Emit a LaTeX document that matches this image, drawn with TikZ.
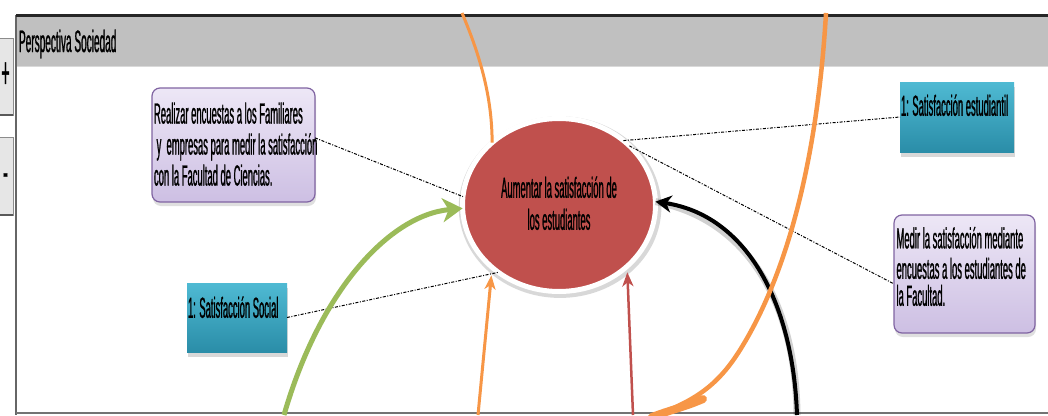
\documentclass[tikz,border=0pt]{standalone}
\usepackage{fontspec}
\setmainfont{Liberation Sans}
\newfontfamily\narrowsans{Liberation Sans}[FakeStretch=0.325,FakeBold=0.8]
\usetikzlibrary{arrows.meta,shadows,shapes.geometric}

\definecolor{hdrgray}{HTML}{C0C0C0}
\definecolor{lavtop}{HTML}{EDE7F6}
\definecolor{lavbot}{HTML}{CDBFE3}
\definecolor{boxline}{HTML}{8064A2}
\definecolor{cyantop}{HTML}{4FBAD3}
\definecolor{cyanbot}{HTML}{2A8DA8}
\definecolor{goalred}{HTML}{C0504D}
\definecolor{accorange}{HTML}{F79646}
\definecolor{accgreen}{HTML}{9BBB59}
\definecolor{btnfill}{HTML}{E6E6E6}

% text block of a box: width, height, top padding, left padding, lines
\newcommand\bxtext[5]{\parbox[c][#2][t]{#1}{\vspace*{#3}\raggedright\leftskip=#4\relax\strut#5}}

\begin{document}
\begin{tikzpicture}[x=1pt,y=-1pt,
  tx/.style={font=\narrowsans\fontsize{29}{28}\selectfont, inner sep=0pt, outer sep=0pt},
  purplebox/.style={tx, rounded corners=8pt, draw=boxline, line width=1.2pt,
    top color=lavtop, bottom color=lavbot,
    drop shadow={shadow xshift=1pt, shadow yshift=-4pt, opacity=0.25}},
  cyanbox/.style={tx, top color=cyantop, bottom color=cyanbot,
    drop shadow={shadow xshift=1pt, shadow yshift=-5pt, opacity=0.3}},
  goalst/.style={tx, ellipse, draw=white, line width=5pt, fill=goalred,
    minimum width=193pt, minimum height=173pt,
    drop shadow={shadow xshift=1pt, shadow yshift=-2pt, opacity=0.3, shadow scale=1.05}},
  dd/.style={draw=black, line width=1pt, dash pattern=on 3pt off 1.5pt on 1pt off 1.5pt},
  btn/.style={fill=btnfill, draw=black!45, line width=0.8pt},
  btnsign/.style={font=\narrowsans\fontsize{44}{44}\selectfont, inner sep=0pt},
  tip/.style={-{Stealth[length=14pt,width=11pt,inset=4pt]}},
  softshade/.style={draw=black, opacity=0.18, line width=7pt}
]
\useasboundingbox (0,0) rectangle (1048,415);
\fill[white] (0,0) rectangle (1048,415);

% side buttons
\path[btn] (-2,38) rectangle (13,115);
\draw[black!65, line width=1.5pt] (0,115) -- (13,115);
\node[btnsign] (plus) at (5.5,75) {+};
\path[btn] (-2,137) rectangle (13,215);
\draw[black!65, line width=1.5pt] (0,215) -- (13,215);
\node[btnsign] (minus) at (5.5,180) {-};

% panel frame and header band
\fill[hdrgray] (16,17) rectangle (1048,66);
\draw[white!85!black, line width=1pt] (16,66.5) -- (1048,66.5);
\draw[black!60, line width=1.5pt] (16,15) -- (16,415);
\draw[black!55, line width=2pt] (16,413) -- (1048,413);
\draw[black!85, line width=3pt] (16,15.5) -- (1048,15.5);
\node[tx, font=\narrowsans\fontsize{31}{32}\selectfont, anchor=base west] (title) at (19,52) {Perspectiva Sociedad};

% objective and related boxes
\node[goalst] (goal) at (559,205) {\parbox[c][80pt][t]{130pt}{\vspace*{11.4pt}\centering\baselineskip=32pt\strut\makebox[\linewidth]{Aumentar la satisfacción de}\\\makebox[\linewidth]{los estudiantes}}};

\node[purplebox] (p1) at (233.5,145) {\bxtext{163pt}{114pt}{14.5pt}{2pt}{\baselineskip=31pt\mbox{Realizar encuestas a los Familiares}\\\mbox{ y\ \ empresas para medir la satisfacción}\\\mbox{con la Facultad de Ciencias.}}};

\node[purplebox] (p2) at (964.5,274) {\bxtext{141pt}{118pt}{12pt}{2.5pt}{\baselineskip=27pt\mbox{Medir la satisfacción mediante}\\\mbox{encuestas a los estudiantes de}\\\mbox{la Facultad.}}};

\node[cyanbox] (c1) at (957,117) {\bxtext{114pt}{70pt}{12.4pt}{1pt}{\mbox{1: Satisfacción estudiantil}}};

\node[cyanbox] (c2) at (237,317.5) {\bxtext{100pt}{69pt}{13.4pt}{1pt}{\mbox{1: Satisfacción Social}}};

% dash-dot links
\draw[dd] (p1.5) -- (goal.175);
\draw[dd] (goal.45) -- (c1.west);
\draw[dd] (goal.40) -- (p2.188);
\draw[dd] (c2.east) -- (goal.228);

% loose ends of the curves
\coordinate (gbot) at (284,415);
\coordinate (bbot) at (797,415);
\coordinate (obot) at (478,415);
\coordinate (rbot) at (633,415);
\coordinate (otop) at (462,13);
\coordinate (ctop) at (826,13);
\coordinate (cmid) at (740,350);
\coordinate (cend) at (652,417);

% soft shadow under the black arc
\draw[softshade, shift={(3,4)}]
  (bbot) .. controls (793,300) and (745,215) .. (goal.2);

% arrows and curves
\draw[black, line width=4pt, -{Stealth[length=16pt,width=17pt,inset=5pt]}]
  (bbot) .. controls (793,300) and (745,215) .. (goal.2);
\draw[accorange, line width=4.5pt]
  (ctop) .. controls (818,150) and (790,270) .. (cmid) .. controls (715,390) and (690,402) .. (cend);
\draw[accorange, line width=8pt, line cap=round]
  (703,399) .. controls (685,407) and (670,410) .. (cend);
\draw[accorange, line width=3pt] (otop) .. controls (482,60) and (492,100) .. (goal.137);
\draw[accgreen, line width=5pt, -{Stealth[length=20pt,width=24pt,inset=6pt]}]
  (gbot) .. controls (320,290) and (390,215) .. (goal.182);
\draw[accorange, line width=3pt, tip, shorten >=8pt] (obot) -- (goal.223);
\draw[goalred, line width=2.5pt, tip, shorten >=6pt] (rbot) -- (goal.318);
\end{tikzpicture}
\end{document}
